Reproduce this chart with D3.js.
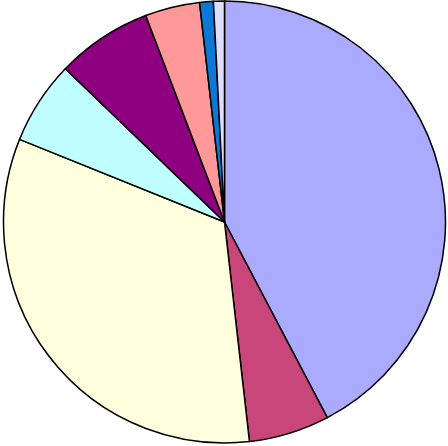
<!doctype html>
<html>
<head>
    <script src="https://d3js.org/d3.v7.min.js"></script>
    <style>
        body { margin: 0; background: #fff; }
    </style>
</head>
<body>
    <script>
        var categorias = ["A", "B", "C", "D", "E", "F", "G", "H"];
        var valores = [42.3, 5.9, 32.9, 6.1, 7.0, 4.0, 1.0, 0.8];
        var cores = ["#AAAAFF", "#C8467A", "#FFFFDD", "#BFFFFF", "#8E0080", "#FF9999", "#0A78D4", "#DDDDFF"];

        var width = 448;
        var height = 446;
        var raio = 221;

        var svg = d3.select("body").append("svg")
                    .attr("width", width)
                    .attr("height", height)
                    .append("g")
                    .attr("transform", "translate(224.5, 222)");

        var cor = d3.scaleOrdinal()
                    .domain(categorias)
                    .range(cores);

        // sem ordenar: fatias na ordem dos dados, sentido horario a partir do topo
        var pie = d3.pie().sort(null).value(function(d, i){ return valores[i]; });
        var arc = d3.arc().innerRadius(0).outerRadius(raio);

        svg.selectAll("path")
           .data(pie(categorias))
           .enter()
           .append("path")
           .attr("d", arc)
           .style("fill", function(d){ return cor(d.data); })
           .style("stroke", "#000")
           .style("stroke-width", 1.5)
           .style("stroke-linejoin", "round");
    </script>
</body>
</html>
